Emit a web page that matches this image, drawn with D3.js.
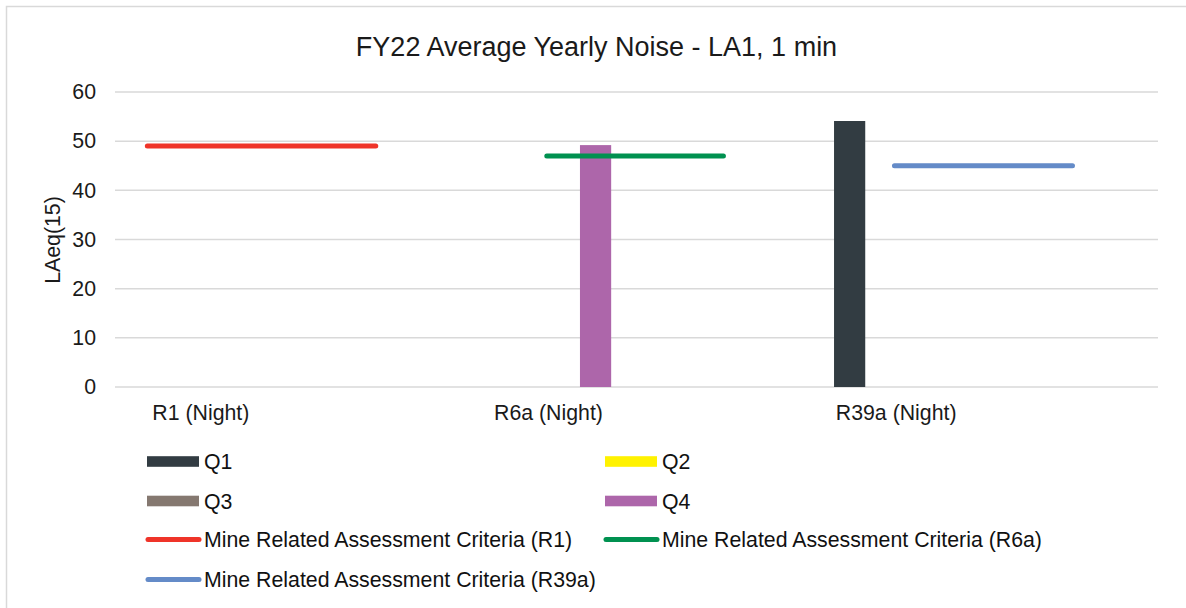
<!DOCTYPE html>
<html><head><meta charset="utf-8">
<script src="https://cdn.jsdelivr.net/npm/d3@7"></script>
<style>body{margin:0;background:#fff}svg text{font-family:"Liberation Sans",Arial,sans-serif}</style>
</head><body><svg id="c" width="1186" height="608"></svg>
<script>
const categories = ["R1 (Night)", "R6a (Night)", "R39a (Night)"];
const seriesNames = ["Q1", "Q2", "Q3", "Q4"];
const Q1 = [null, null, 54.1];
const Q2 = [null, null, null];
const Q3 = [null, null, null];
const Q4 = [null, 49.2, null];
const criteriaNames = ["Mine Related Assessment Criteria (R1)", "Mine Related Assessment Criteria (R6a)", "Mine Related Assessment Criteria (R39a)"];
const criteriaValues = [49, 47, 45];
const yTicks = [0, 10, 20, 30, 40, 50, 60];
const title = "FY22 Average Yearly Noise - LA1, 1 min";
const yLabel = "LAeq(15)";

const barColors = ["#323c42", "#fff200", "#857870", "#ad66aa"];
const lineColors = ["#ef3429", "#009150", "#648bc8"];
const lineSpan = [[0.093, 0.75], [0.242, 0.75], [0.242, 0.754]];

const svg = d3.select("#c");
svg.append("rect").attr("x", 6.5).attr("y", 6.5).attr("width", 1186).attr("height", 610)
  .attr("fill", "#fff").attr("stroke", "#d9d9d9").attr("stroke-width", 1.5);

const L = 115, R = 1158, T = 92, B = 387;
const x = d3.scaleBand().domain(categories).range([L, R]);
const y = d3.scaleLinear().domain([0, 60]).range([B, T]);
const xs = d3.scaleBand().domain(seriesNames).range([23.7, 23.7 + 124.8]);

svg.append("text").attr("x", 596.5).attr("y", 56).attr("text-anchor", "middle")
  .attr("font-size", 27).attr("fill", "#1a1a1a").text(title);

// grid
svg.append("g").selectAll("line").data(yTicks).join("line")
  .attr("x1", L).attr("x2", R).attr("y1", d => y(d)).attr("y2", d => y(d))
  .attr("stroke", "#d9d9d9").attr("stroke-width", 1.5);

const ya = svg.append("g").attr("transform", `translate(${L},0)`)
  .call(d3.axisLeft(y).tickValues(yTicks).tickSize(0).tickPadding(19));
ya.select(".domain").remove();
ya.selectAll("text").attr("font-size", 21.3).attr("fill", "#1a1a1a");

svg.append("text").attr("transform", "translate(60,240) rotate(-90)").attr("text-anchor", "middle")
  .attr("font-size", 21.3).attr("fill", "#1a1a1a").text(yLabel);

// x labels
svg.append("g").selectAll("text").data(categories).join("text")
  .attr("x", d => x(d) + x.bandwidth() / 2 - 88).attr("y", 420).attr("text-anchor", "middle")
  .attr("font-size", 21.3).attr("fill", "#1a1a1a").text(d => d);

// bars
const allSeries = [Q1, Q2, Q3, Q4];
allSeries.forEach((vals, si) => {
  svg.append("g").selectAll("rect").data(categories.map((c, i) => ({c, v: vals[i]})).filter(d => d.v != null))
    .join("rect")
    .attr("x", d => x(d.c) + xs(seriesNames[si])).attr("width", xs.bandwidth())
    .attr("y", d => y(d.v)).attr("height", d => y(0) - y(d.v))
    .attr("fill", barColors[si]);
});

// criteria lines
criteriaValues.forEach((v, i) => {
  const c = categories[i];
  svg.append("line")
    .attr("x1", x(c) + lineSpan[i][0] * x.bandwidth()).attr("x2", x(c) + lineSpan[i][1] * x.bandwidth())
    .attr("y1", y(v)).attr("y2", y(v))
    .attr("stroke", lineColors[i]).attr("stroke-width", 5).attr("stroke-linecap", "round");
});

// legend
const lg = svg.append("g");
const rows = [461.5, 501, 539.5, 579.5];
seriesNames.forEach((n, i) => {
  const lx = i % 2 === 0 ? 147 : 605;
  const ly = rows[Math.floor(i / 2)];
  lg.append("rect").attr("x", lx).attr("y", ly - 5.3).attr("width", 52).attr("height", 10.6).attr("fill", barColors[i]);
  lg.append("text").attr("x", lx + 57).attr("y", ly + 7.5).attr("font-size", 21.3).attr("fill", "#111").text(n);
});
criteriaNames.forEach((n, i) => {
  const lx = i === 1 ? 605 : 147;
  const ly = i === 2 ? rows[3] : rows[2];
  lg.append("line").attr("x1", lx + 1).attr("x2", lx + 52).attr("y1", ly).attr("y2", ly)
    .attr("stroke", lineColors[i]).attr("stroke-width", 5).attr("stroke-linecap", "round");
  lg.append("text").attr("x", lx + 57).attr("y", ly + 7.5).attr("font-size", 21.3).attr("fill", "#111").text(n);
});
</script></body></html>
